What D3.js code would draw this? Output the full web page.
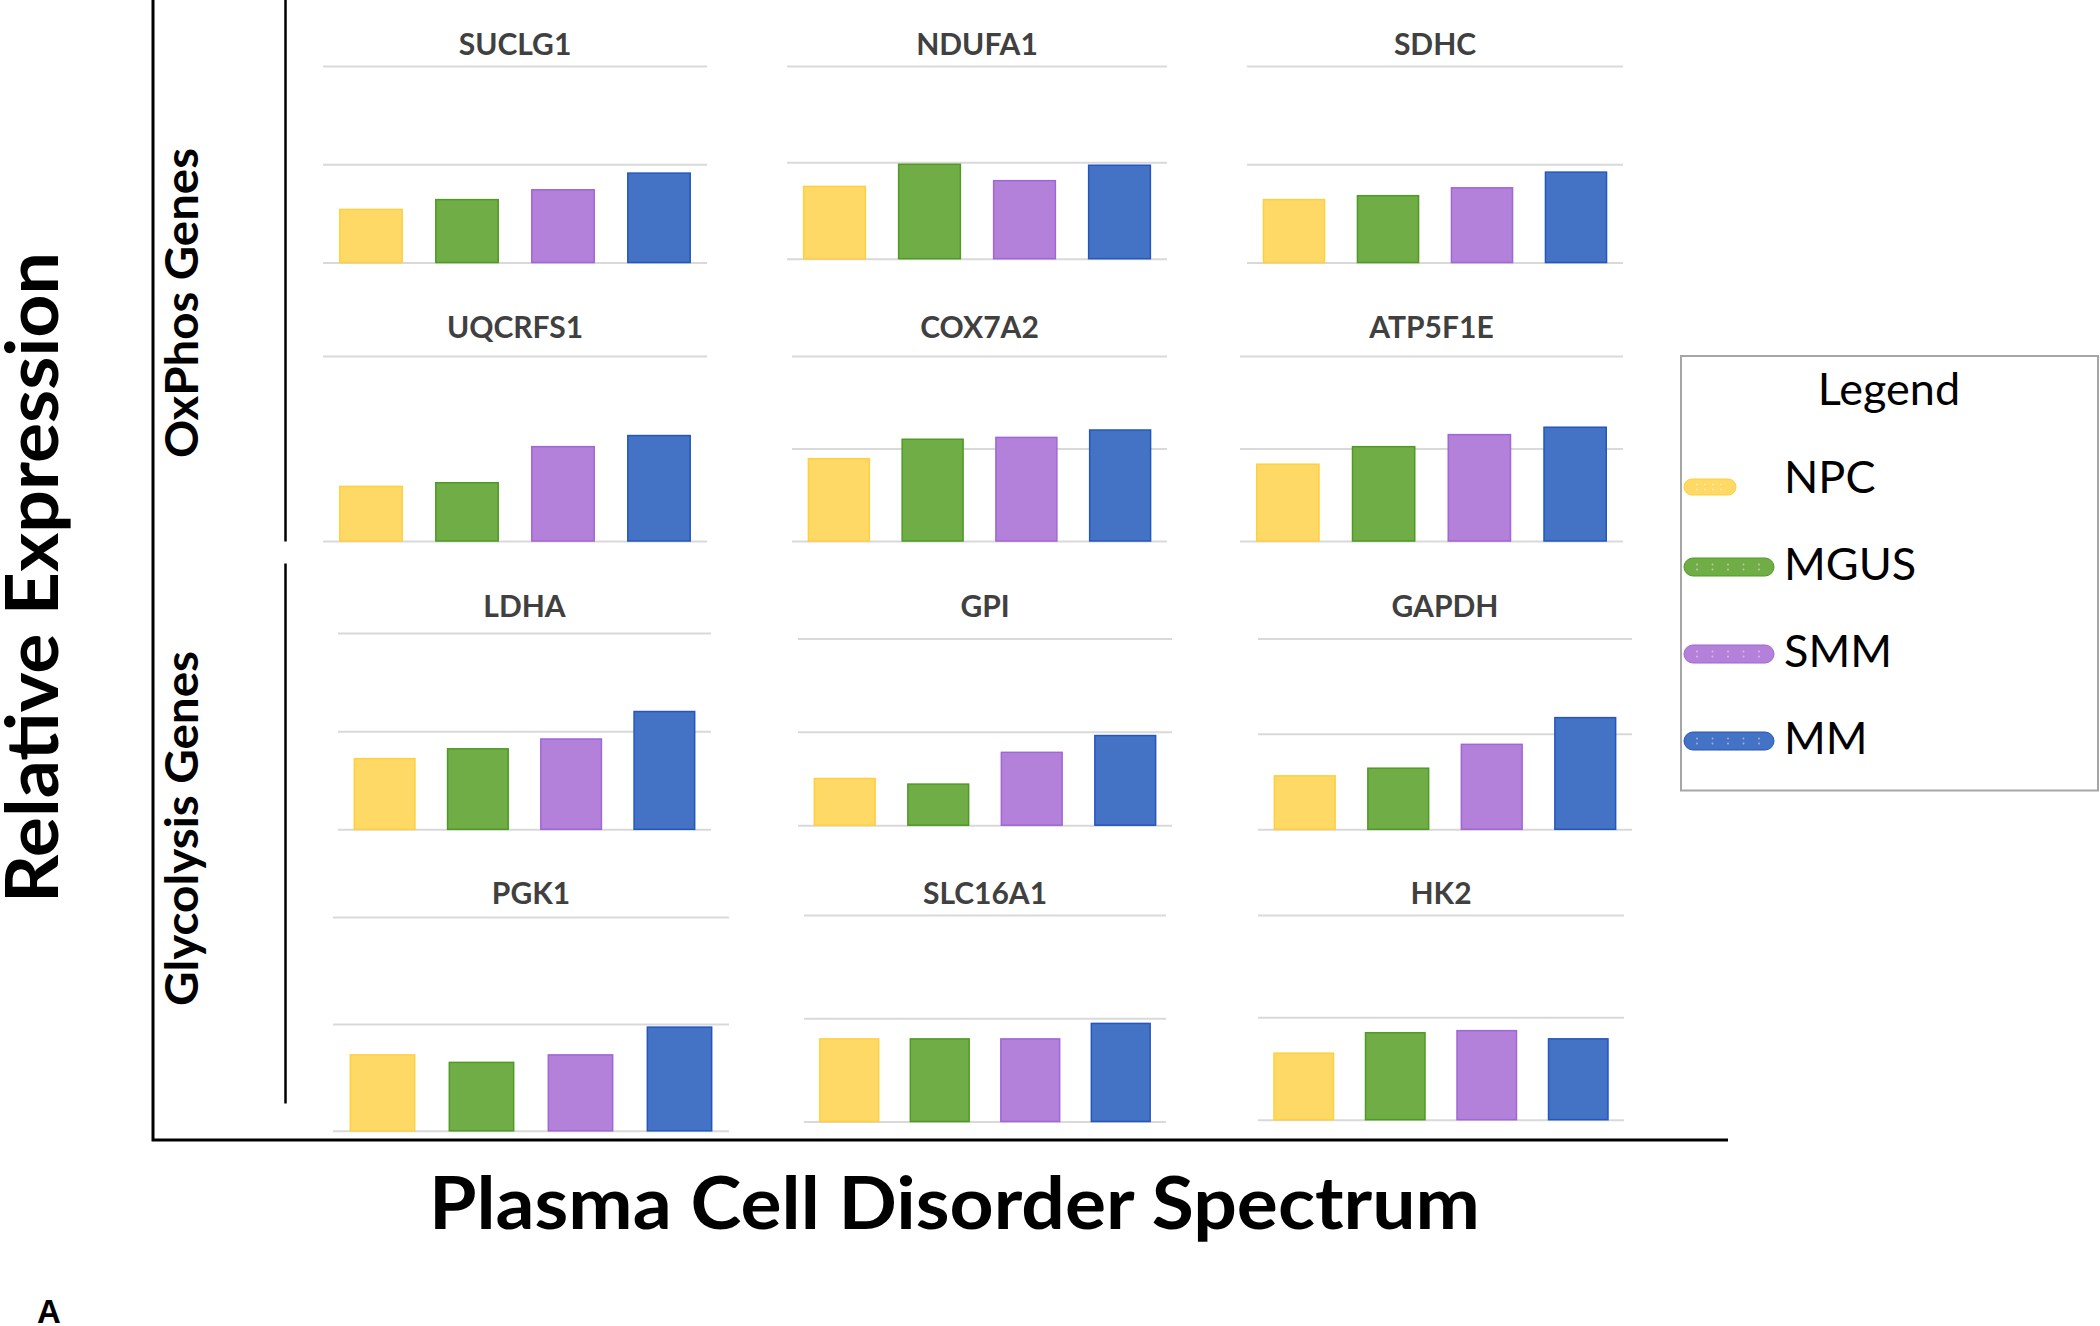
<!DOCTYPE html>
<html><head><meta charset="utf-8">
<script src="https://cdn.jsdelivr.net/npm/d3@7"></script>
<style>html,body{margin:0;padding:0;background:#fff;} svg{display:block;}</style>
</head><body>
<svg id="chart" width="2100" height="1326"></svg>
<script>
// ---------------- data ----------------
const stages = ["NPC", "MGUS", "SMM", "MM"];
const genes = ["SUCLG1", "NDUFA1", "SDHC", "UQCRFS1", "COX7A2", "ATP5F1E",
               "LDHA", "GPI", "GAPDH", "PGK1", "SLC16A1", "HK2"];
const npcValues  = [0.54, 0.75, 0.64, 0.59, 0.89, 0.83, 0.72, 0.50, 0.56, 0.71, 0.80, 0.65];
const mgusValues = [0.64, 0.98, 0.68, 0.63, 1.10, 1.02, 0.82, 0.44, 0.64, 0.64, 0.80, 0.85];
const smmValues  = [0.74, 0.81, 0.76, 1.02, 1.12, 1.15, 0.92, 0.78, 0.89, 0.71, 0.80, 0.87];
const mmValues   = [0.91, 0.97, 0.92, 1.14, 1.20, 1.23, 1.20, 0.96, 1.17, 0.97, 0.95, 0.79];
const gridTicks  = [[0,1,2],[0,1,2],[0,1,2],[0,2],[0,1,2],[0,1,2],
                    [0,1,2],[0,1,2],[0,1,2],[0,1,2],[0,1,2],[0,1,2]];
const yMax = 2;
const geneGroups = ["OxPhos Genes", "Glycolysis Genes"];
const xAxisTitle = "Plasma Cell Disorder Spectrum";
const yAxisTitle = "Relative Expression";
const legendTitle = "Legend";
const panelLetter = "A";

// ---------------- layout & style ----------------
const panelBoxes = [
  {x0:323, x1:707,  top:66,  base:262.5, titleY:55},
  {x0:787, x1:1167, top:66,  base:258.7, titleY:55},
  {x0:1247,x1:1623, top:66,  base:262.5, titleY:55},
  {x0:323, x1:707,  top:356, base:541,   titleY:338},
  {x0:792, x1:1167, top:356, base:541,   titleY:338},
  {x0:1240,x1:1623, top:356, base:541,   titleY:338},
  {x0:338, x1:711,  top:633, base:829.3, titleY:617},
  {x0:798, x1:1172, top:638.4, base:825.2, titleY:617},
  {x0:1258,x1:1632, top:638.4, base:829.3, titleY:617},
  {x0:333, x1:729,  top:917, base:1130.8, titleY:904},
  {x0:804, x1:1166, top:915, base:1121.5, titleY:904},
  {x0:1258,x1:1624, top:915, base:1119.7, titleY:904}
];
const fillColors   = ["#FFD966", "#70AD47", "#B381D9", "#4472C4"];
const strokeColors = ["#FFCF3F", "#4E9A22", "#A065D6", "#2457BE"];
const FONT = "Lato, 'Open Sans', 'DejaVu Sans', sans-serif";

const svg = d3.select("#chart");
svg.append("rect").attr("width", 2100).attr("height", 1326).attr("fill", "#fff");

const seriesValues = [npcValues, mgusValues, smmValues, mmValues];

genes.forEach((gene, gi) => {
  const b = panelBoxes[gi];
  const x = d3.scaleBand().domain(stages).range([b.x0, b.x1])
    .paddingInner(0.35).paddingOuter(0.175);
  const y = d3.scaleLinear().domain([0, yMax]).range([b.base, b.top]);
  const g = svg.append("g").attr("class", "panel");

  // gridlines
  const grid = g.append("g").attr("transform", `translate(${b.x0},0)`)
    .call(d3.axisLeft(y).tickValues(gridTicks[gi]).tickSize(-(b.x1 - b.x0)).tickFormat(""));
  grid.select(".domain").remove();
  grid.selectAll(".tick line").attr("stroke", "#D9D9D9").attr("stroke-width", 2);

  // bars
  const rows = stages.map((s, si) => ({stage: s, value: seriesValues[si][gi], si}));
  g.selectAll("rect.bar").data(rows).join("rect")
    .attr("class", "bar")
    .attr("x", d => x(d.stage))
    .attr("y", d => y(d.value))
    .attr("width", x.bandwidth())
    .attr("height", d => y(0) - y(d.value))
    .attr("fill", d => fillColors[d.si])
    .attr("stroke", d => strokeColors[d.si])
    .attr("stroke-width", 1.5);

  // title
  g.append("text")
    .attr("x", (b.x0 + b.x1) / 2).attr("y", b.titleY)
    .attr("text-anchor", "middle")
    .attr("font-family", FONT).attr("font-weight", 700).attr("font-size", 30)
    .attr("fill", "#404040")
    .text(gene);
});

// axis frame
svg.append("path").attr("d", "M153,0 V1140 H1728")
  .attr("fill", "none").attr("stroke", "#000").attr("stroke-width", 3);
svg.append("line").attr("x1", 285.5).attr("x2", 285.5).attr("y1", 0).attr("y2", 541.5)
  .attr("stroke", "#000").attr("stroke-width", 2.5);
svg.append("line").attr("x1", 285.5).attr("x2", 285.5).attr("y1", 563.5).attr("y2", 1103.5)
  .attr("stroke", "#000").attr("stroke-width", 2.5);

// axis titles
svg.append("text").attr("x", 429).attr("y", 1229)
  .attr("font-family", FONT).attr("font-weight", 700).attr("font-size", 72)
  .attr("textLength", 1051).attr("lengthAdjust", "spacingAndGlyphs")
  .attr("fill", "#000").text(xAxisTitle);
svg.append("text").attr("transform", "translate(58,903) rotate(-90)")
  .attr("font-family", FONT).attr("font-weight", 700).attr("font-size", 72)
  .attr("textLength", 651).attr("lengthAdjust", "spacingAndGlyphs")
  .attr("fill", "#000").text(yAxisTitle);

// group labels
svg.append("text").attr("transform", "translate(198,458) rotate(-90)")
  .attr("font-family", FONT).attr("font-weight", 700).attr("font-size", 46)
  .attr("textLength", 310).attr("lengthAdjust", "spacingAndGlyphs")
  .attr("fill", "#000").text(geneGroups[0]);
svg.append("text").attr("transform", "translate(198,1006) rotate(-90)")
  .attr("font-family", FONT).attr("font-weight", 700).attr("font-size", 46)
  .attr("textLength", 355).attr("lengthAdjust", "spacingAndGlyphs")
  .attr("fill", "#000").text(geneGroups[1]);

// panel letter
svg.append("text").attr("x", 37).attr("y", 1323)
  .attr("font-family", "'Liberation Sans', Arial, sans-serif").attr("font-weight", 700)
  .attr("font-size", 33).attr("fill", "#000").text(panelLetter);

// legend
const lg = svg.append("g").attr("class", "legend");
lg.append("rect").attr("x", 1681).attr("y", 356).attr("width", 417).attr("height", 434.5)
  .attr("fill", "#fff").attr("stroke", "#A6A6A6").attr("stroke-width", 2);
lg.append("text").attr("x", 1889).attr("y", 405).attr("text-anchor", "middle")
  .attr("font-family", FONT).attr("font-size", 45).attr("fill", "#000").text(legendTitle);

const legY = d3.scalePoint().domain(stages).range([493, 754]);
const markerW = [52, 90, 90, 90];
stages.forEach((s, si) => {
  const by = legY(s);
  const cy = by - 6 - (si === 0 ? 0 : 2) + (si === 0 ? 0 : 0);
  const h = si === 0 ? 16 : 18;
  const mcy = si === 0 ? 487 : by - 13;
  lg.append("rect").attr("x", 1684).attr("y", mcy - h / 2).attr("width", markerW[si]).attr("height", h)
    .attr("rx", h / 2).attr("ry", h / 2)
    .attr("fill", fillColors[si]).attr("stroke", strokeColors[si]).attr("stroke-width", 1);
  const nd = si === 0 ? 4 : 5;
  const dx = d3.scaleLinear().domain([0, nd - 1]).range(si === 0 ? [1697, 1721] : [1697, 1759]);
  d3.range(nd).forEach(k => {
    [-2.5, 2.5].forEach(o => {
      lg.append("circle").attr("cx", dx(k)).attr("cy", mcy + o).attr("r", 1)
        .attr("fill", "#fff").attr("opacity", 0.45);
    });
  });
  lg.append("text").attr("x", 1784).attr("y", by)
    .attr("font-family", FONT).attr("font-size", 45).attr("fill", "#000").text(s);
});
</script>
</body></html>
